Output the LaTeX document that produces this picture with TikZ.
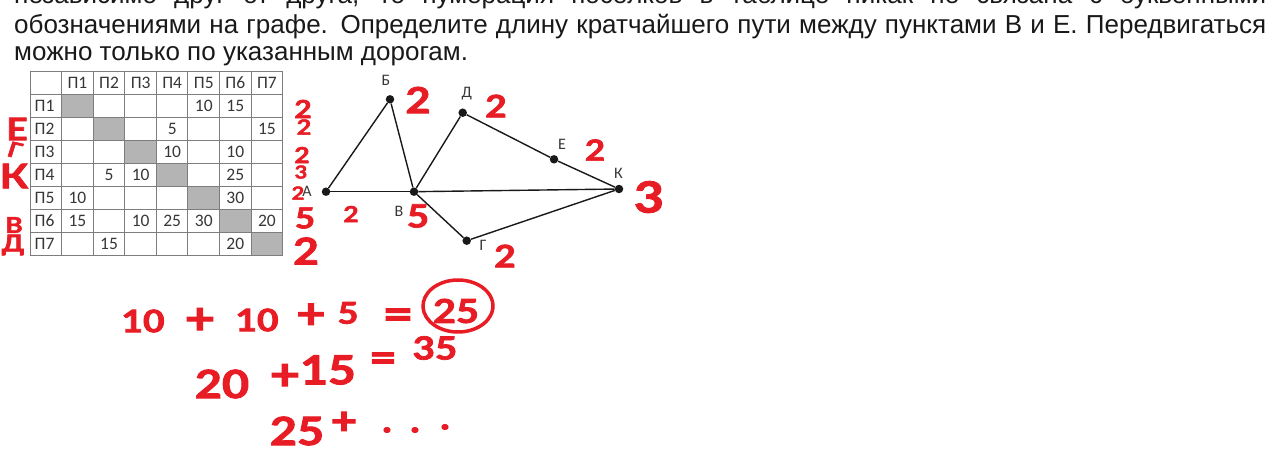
\documentclass[tikz,border=0pt]{standalone}
\usepackage{fontspec}
\setmainfont{Liberation Sans}
\newfontfamily\tabfont{Carlito}
\newfontfamily\hand{Lato}[BoldFeatures={FakeBold=2.2}]
\definecolor{hwred}{RGB}{232,28,36}
\definecolor{ink}{RGB}{25,25,25}
\definecolor{tabtext}{RGB}{55,55,55}
\definecolor{cellgray}{RGB}{180,180,180}
\definecolor{gridgray}{RGB}{125,125,125}
\tikzset{
  mainline/.style={anchor=base west, inner sep=0, text=ink, font=\fontsize{26}{30}\selectfont},
  tabcell/.style={inner sep=0, text=tabtext, font=\tabfont\fontsize{17.5}{20}\selectfont},
  gridline/.style={draw=gridgray, line width=1pt},
  gdot/.style={circle, fill=ink, inner sep=0, minimum size=8.5pt},
  gedge/.style={draw=ink, line width=1.4pt},
  glabel/.style={inner sep=0, text=tabtext, font=\tabfont\fontsize{16}{18}\selectfont},
  hw/.style={inner sep=0, text=hwred, xscale=1.2, transform shape, font=\hand\bfseries\fontsize{#1}{#1}\selectfont},
  hw/.default=26
}
\begin{document}
\begin{tikzpicture}[x=1pt,y=-1pt]
\useasboundingbox (0,0) rectangle (1282,455);
\clip (0,0) rectangle (1282,455);
\fill[white] (0,0) rectangle (1282,455);

% question text
\node[mainline] (t1) at (14,3.5) {\makebox[1252pt][s]{независимо друг от друга, то нумерация посёлков в таблице никак не связана с буквенными}};
\node[mainline] (t2) at (14,33) {\makebox[1252pt][s]{обозначениями на графе. Определите длину кратчайшего пути между пунктами В и Е. Передвигаться}};
\node[mainline] (t3) at (14,60.5) {можно только по указанным дорогам.};

% table
\foreach \k in {1,...,7}{
  \fill[cellgray] ({61.7+(\k-1)*31.57},{71+\k*23.06}) rectangle ({61.7+\k*31.57},{71+(\k+1)*23.06});
}
\foreach \j in {0,...,8}{
  \draw[gridline] (30.7,{71+\j*23.06}) -- (282.7,{71+\j*23.06});
}
\draw[gridline] (30.7,71) -- (30.7,255.5);
\foreach \i in {0,...,7}{
  \draw[gridline] ({61.7+\i*31.57},71) -- ({61.7+\i*31.57},255.5);
}
\foreach \i in {1,...,7}{
  \node[tabcell] (hc\i) at ({61.7+(\i-0.5)*31.57},{71+0.5*23.06}) {П\i};
  \node[tabcell, anchor=west] (hr\i) at (34.5,{71+(\i+0.5)*23.06}) {П\i};
}
\foreach \r/\c/\v in {1/5/10, 1/6/15, 2/4/5, 2/7/15, 3/4/10, 3/6/10, 4/2/5, 4/3/10, 4/6/25, 5/1/10, 5/6/30, 6/1/15, 6/3/10, 6/4/25, 6/5/30, 6/7/20, 7/2/15, 7/6/20}{
  \node[tabcell] (v\r\c) at ({61.7+(\c-0.5)*31.57},{71+(\r+0.5)*23.06}) {\v};
}

% graph
\node[gdot] (A) at (326,191.7) {};
\node[gdot] (B) at (390,99.3) {};
\node[gdot] (V) at (414,191.7) {};
\node[gdot] (G) at (466.7,240.7) {};
\node[gdot] (D) at (462.7,112.7) {};
\node[gdot] (E) at (554,159.3) {};
\node[gdot] (K) at (619,189) {};
\draw[gedge] (A) -- (B);
\draw[gedge] (B) -- (V);
\draw[gedge] (A) -- (V);
\draw[gedge] (V) -- (K);
\draw[gedge] (V) -- (D);
\draw[gedge] (D) -- (E);
\draw[gedge] (E) -- (K);
\draw[gedge] (V) -- (G);
\draw[gedge] (G) -- (K);
\node[glabel] (lA) at (307,191.5) {А};
\node[glabel] (lB) at (386,80) {Б};
\node[glabel] (lV) at (399,211) {В};
\node[glabel] (lG) at (483,245) {Г};
\node[glabel] (lD) at (466.7,94) {Д};
\node[glabel] (lE) at (562,144) {Е};
\node[glabel] (lK) at (618.5,173) {К};

% handwritten marks near the table
\node[hw=25] (n1) at (303,109) {2};
\node[hw=21] (n2) at (304,127) {2};
\node[hw=22] (n3) at (302,155) {2};
\node[hw=18] (n4) at (301,172) {3};
\node[hw=18] (n5) at (298,193) {2};
\node[hw=29] (n6) at (305,218) {5};
\node[hw=37] (n7) at (306,251) {2};
\node[hw=31] (cE) at (17,129) {Е};
\node[hw=21, rotate=-15] (cG) at (15,150) {Г};
\node[hw=34] (cK) at (14,176) {К};
\node[hw=22] (cV) at (14,225) {В};
\node[hw=23] (cD) at (13,245) {Д};

% handwritten marks on the graph
\node[hw=36] (gB) at (418,100) {2};
\node[hw=31] (gD) at (496,106) {2};
\node[hw=29] (gE) at (595,150) {2};
\node[hw=43] (gK) at (649,197) {3};
\node[hw=22] (gA) at (351,214) {2};
\node[hw=32] (gV) at (418,216) {5};
\node[hw=31] (gG) at (505,256) {2};

% handwritten sums
\node[hw=31] (a1) at (143,321) {10};
\node[hw=44] (a2) at (200,321) {+};
\node[hw=31] (a3) at (257,320) {10};
\node[hw=42] (a4) at (311,316) {+};
\node[hw=30] (a5) at (348,313) {5};
\node[hw=44] (a6) at (398,319) {=};
\node[hw=33] (a7) at (456,311) {25};
\draw[hwred, line width=3.5pt, line cap=round] (458,306) ++(20:35 and 26) arc[start angle=20, end angle=385, x radius=35, y radius=26];
\node[hw=39] (b1) at (222,384) {20};
\node[hw=44] (b2) at (285,377) {+};
\node[hw=40] (b3) at (328,370) {15};
\node[hw=40] (b4) at (383,362) {=};
\node[hw=32] (b5) at (435,348) {35};
\node[hw=39] (c1) at (297,431) {25};
\node[hw=38] (c2) at (344,423) {+};
\node[hw=34] (c3) at (387,430) {.};
\node[hw=34] (c4) at (415,430) {.};
\node[hw=34] (c5) at (445,427) {.};
\end{tikzpicture}
\end{document}
